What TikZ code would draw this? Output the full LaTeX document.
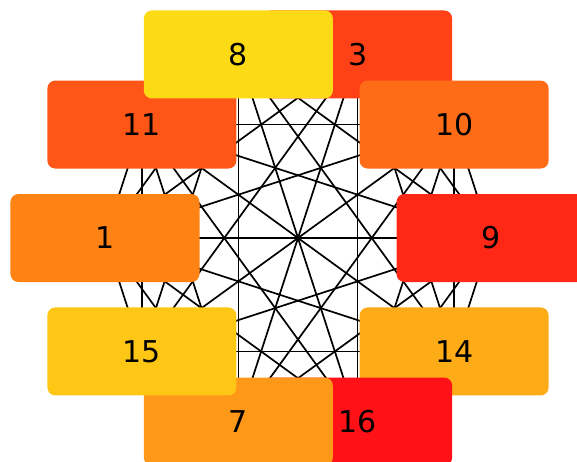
\documentclass[tikz,border=0pt]{standalone}
\usepackage{fontspec}
\setsansfont{DejaVu Sans}
\usetikzlibrary{backgrounds}

\definecolor{cnine}{HTML}{FF2817}
\definecolor{cten}{HTML}{FE6C17}
\definecolor{cthree}{HTML}{FF4118}
\definecolor{ceight}{HTML}{FDDA16}
\definecolor{celeven}{HTML}{FE5616}
\definecolor{cone}{HTML}{FF8214}
\definecolor{cfifteen}{HTML}{FEC615}
\definecolor{cseven}{HTML}{FD9818}
\definecolor{csixteen}{HTML}{FF1217}
\definecolor{cfourteen}{HTML}{FDAB17}

\tikzset{
  vbox/.style={rectangle, rounded corners=8pt, minimum width=189pt, minimum height=88pt,
    inner sep=0pt, font=\sffamily\fontsize{30}{36}\selectfont},
  edge/.style={black, line width=1.7pt}
}

\begin{document}
\begin{tikzpicture}[x=1pt, y=1pt]
                \useasboundingbox (-298,-223) rectangle (279,238);
                \clip (-298,-223) rectangle (279,238);
                % boxes, last one on top
                \foreach \k/\lab/\col in {2/3/cthree, 1/10/cten, 4/11/celeven, 3/8/ceight,
                    9/14/cfourteen, 8/16/csixteen, 7/7/cseven, 6/15/cfifteen, 5/1/cone, 0/9/cnine}
                    \node[vbox, fill=\col] (v\k) at (36*\k:193) {\lab};
                % every pair joined
                \begin{scope}[on background layer]
                    \foreach \i in {0,...,9}
                        \foreach \j in {0,...,9}
                            {\ifnum\i<\j \draw[edge] (v\i.center) -- (v\j.center);\fi}
                \end{scope}
            \end{tikzpicture}
\end{document}
